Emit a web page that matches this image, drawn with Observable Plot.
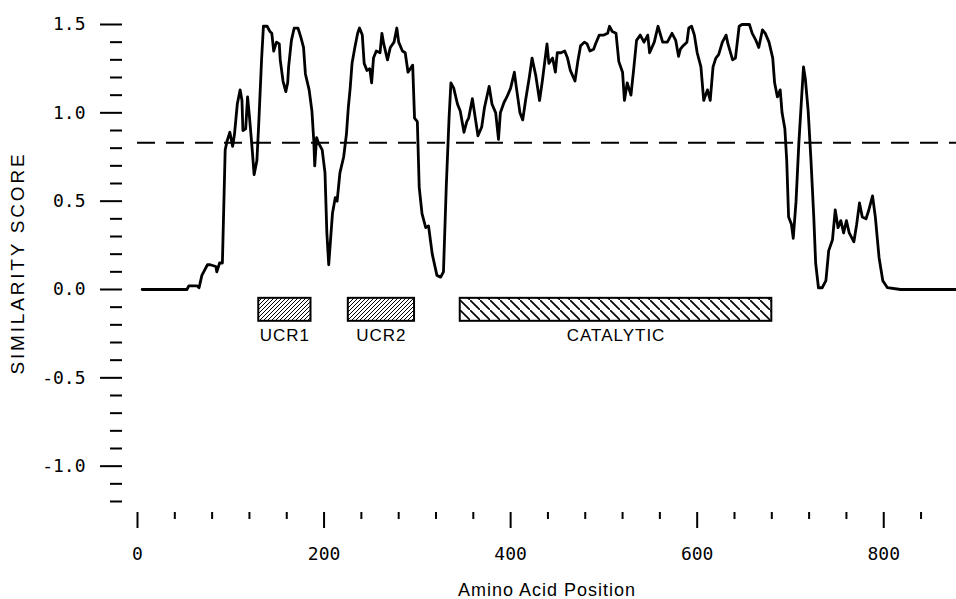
<!DOCTYPE html>
<html><head><meta charset="utf-8">
<script src="https://cdn.jsdelivr.net/npm/d3@7"></script>
<script src="https://cdn.jsdelivr.net/npm/@observablehq/plot@0.6"></script>
<style>html,body{margin:0;padding:0;background:#fff;} svg{display:block}</style>
</head><body><div id="chart"></div>
<script>
// Amino acid position and similarity score
const position = [5,53,55,64,66,69,75,78,84,85,88,91,94,96,99,102,104,107,110,112,113,116,118,120,123,125,128,130,133,135,139,142,144,146,149,152,153,156,159,161,162,165,168,172,175,178,180,184,187,189,190,192,194,198,201,203,205,209,212,214,217,221,224,226,228,230,233,236,238,241,243,246,249,251,253,256,260,262,264,268,271,275,278,280,284,287,290,295,297,300,302,305,309,312,316,321,325,328,331,334,336,339,343,346,350,353,355,359,361,365,369,372,377,380,384,387,389,393,396,400,404,406,410,413,416,420,423,427,431,434,439,441,445,448,450,454,458,461,464,469,472,475,479,482,485,489,491,495,500,504,506,509,513,516,520,522,525,529,532,535,539,543,547,549,554,558,563,568,573,577,580,582,585,589,591,594,597,600,604,607,611,614,617,620,623,627,631,633,638,641,645,648,656,659,663,666,670,673,677,681,683,686,689,691,694,696,698,701,703,706,709,712,714,716,719,722,725,727,730,734,738,741,745,748,751,754,757,760,763,768,771,774,777,781,784,788,791,795,799,804,818,878];
const score = [0,0,0.02,0.02,0.01,0.08,0.14,0.14,0.13,0.10,0.15,0.15,0.79,0.84,0.89,0.81,0.88,1.05,1.13,1.07,0.90,0.91,1.09,0.98,0.79,0.65,0.73,0.94,1.30,1.49,1.49,1.46,1.45,1.35,1.40,1.39,1.30,1.18,1.12,1.17,1.26,1.41,1.48,1.48,1.43,1.37,1.22,1.13,1.01,0.84,0.70,0.86,0.83,0.79,0.66,0.32,0.14,0.43,0.52,0.50,0.66,0.75,0.88,1.03,1.14,1.28,1.37,1.45,1.48,1.44,1.28,1.24,1.25,1.17,1.31,1.35,1.34,1.45,1.39,1.30,1.37,1.40,1.48,1.40,1.35,1.34,1.23,1.27,0.97,0.95,0.58,0.43,0.35,0.36,0.20,0.08,0.07,0.10,0.58,0.97,1.17,1.14,1.05,1.01,0.89,0.95,0.97,1.08,1.01,0.87,0.92,1.03,1.15,1.05,1.00,0.85,1.00,1.06,1.09,1.14,1.23,1.15,1.00,0.96,1.07,1.20,1.31,1.21,1.07,1.18,1.39,1.28,1.31,1.23,1.34,1.34,1.35,1.31,1.24,1.18,1.29,1.38,1.40,1.39,1.35,1.36,1.39,1.44,1.44,1.45,1.49,1.46,1.45,1.29,1.23,1.07,1.17,1.10,1.25,1.41,1.44,1.40,1.44,1.34,1.40,1.49,1.40,1.40,1.45,1.41,1.32,1.36,1.38,1.40,1.48,1.49,1.44,1.34,1.26,1.07,1.13,1.07,1.26,1.31,1.33,1.40,1.44,1.39,1.30,1.31,1.49,1.50,1.50,1.45,1.41,1.37,1.47,1.45,1.40,1.31,1.17,1.09,1.13,1.00,0.91,0.73,0.41,0.37,0.29,0.50,0.83,1.09,1.26,1.19,1.01,0.73,0.41,0.15,0.01,0.01,0.05,0.22,0.28,0.45,0.35,0.39,0.32,0.39,0.32,0.27,0.37,0.49,0.41,0.40,0.45,0.53,0.41,0.18,0.05,0.01,0,0];

// Domains
const domainName = ["UCR1", "UCR2", "CATALYTIC"];
const domainStart = [130, 226, 346];
const domainEnd = [186, 297, 680];

// Significance cutoff
const cutoff = [0.83];

// Tick values
const xMajorTicks = [0, 200, 400, 600, 800];
const xMinorTicks = [40, 80, 120, 160, 240, 280, 320, 360, 440, 480, 520, 560, 640, 680, 720, 760, 840];
const yMajorTicks = [-1.0, -0.5, 0, 0.5, 1.0, 1.5];
const yMinorTicks = [-1.2, -1.1, -0.9, -0.8, -0.7, -0.6, -0.4, -0.3, -0.2, -0.1, 0.1, 0.2, 0.3, 0.4, 0.6, 0.7, 0.8, 0.9, 1.1, 1.2, 1.3, 1.4];

const profile = position.map((x, i) => ({x, y: score[i]}));
const domains = domainName.map((name, i) => ({name, start: domainStart[i], end: domainEnd[i]}));
const ucrDomains = domains.filter(d => d.name !== "CATALYTIC");
const catDomains = domains.filter(d => d.name === "CATALYTIC");

const mono = "'DejaVu Sans Mono', monospace";
const sans = "'Liberation Sans', Arial, sans-serif";

const chart = Plot.plot({
  width: 956,
  height: 599,
  marginLeft: 137,
  marginRight: 0,
  marginTop: 24,
  marginBottom: 98,
  style: {fontFamily: mono, fontSize: "18px", color: "black", background: "white"},
  x: {domain: [0, 878]},
  y: {domain: [-1.2, 1.5]},
  marks: [
    Plot.axisY({ticks: yMajorTicks, tickSize: 22, dx: -15, tickPadding: 15, strokeWidth: 2, tickFormat: d => d.toFixed(1), label: null, fontFamily: mono, fontSize: 18}),
    Plot.axisY({ticks: yMinorTicks, tickSize: 12, dx: -15, strokeWidth: 2, fill: "none", label: null}),
    Plot.axisX({ticks: xMajorTicks, tickSize: 16, dy: 11, tickPadding: 19, strokeWidth: 2, tickFormat: d => String(d), label: null, fontFamily: mono, fontSize: 18}),
    Plot.axisX({ticks: xMinorTicks, tickSize: 7, dy: 11, strokeWidth: 2, fill: "none", label: null}),
    Plot.ruleY(cutoff, {stroke: "black", strokeWidth: 2, strokeDasharray: "18,11"}),
    Plot.rect(ucrDomains, {x1: "start", x2: "end", y1: -0.05, y2: -0.18, fill: "url(#hatchA)", stroke: "black", strokeWidth: 2}),
    Plot.rect(catDomains, {x1: "start", x2: "end", y1: -0.05, y2: -0.18, fill: "url(#hatchB)", stroke: "black", strokeWidth: 2}),
    Plot.text(domains, {x: d => (d.start + d.end) / 2, y: -0.26, text: "name", fontFamily: sans, fontSize: 17, fill: "black"}),
    Plot.line(profile, {x: "x", y: "y", stroke: "black", strokeWidth: 2.8, strokeLinejoin: "round"}),
    Plot.text(["Amino Acid Position"], {frameAnchor: "bottom", dy: 89, lineAnchor: "middle", textAnchor: "middle", fontFamily: sans, fontSize: 18, fill: "black"}),
    Plot.text(["SIMILARITY SCORE"], {frameAnchor: "left", dx: -120, rotate: -90, textAnchor: "middle", lineAnchor: "middle", fontFamily: sans, fontSize: 19, fill: "black"})
  ]
});

// hatch patterns
const svg = d3.select(chart);
const defs = svg.insert("defs", ":first-child");
const pa = defs.append("pattern").attr("id", "hatchA").attr("patternUnits", "userSpaceOnUse").attr("width", 4).attr("height", 4);
pa.append("rect").attr("width", 4).attr("height", 4).attr("fill", "white");
pa.append("path").attr("d", "M-1,1 l2,-2 M0,4 l4,-4 M3,5 l2,-2").attr("stroke", "black").attr("stroke-width", 1);
const pb = defs.append("pattern").attr("id", "hatchB").attr("patternUnits", "userSpaceOnUse").attr("width", 10).attr("height", 10);
pb.append("rect").attr("width", 10).attr("height", 10).attr("fill", "white");
pb.append("path").attr("d", "M-1,-1 l2,2 M0,0 l10,10 M9,9 l2,2").attr("stroke", "black").attr("stroke-width", 1.6);

// letter spacing for titles
svg.selectAll("text").each(function() {
  const t = this.textContent;
  if (t === "SIMILARITY SCORE") d3.select(this).style("letter-spacing", "2.8px");
  if (t === "Amino Acid Position") d3.select(this).style("letter-spacing", "1px");
  if (domainName.includes(t)) d3.select(this).style("letter-spacing", "1px");
});

document.getElementById("chart").appendChild(chart);
</script>
</body></html>
